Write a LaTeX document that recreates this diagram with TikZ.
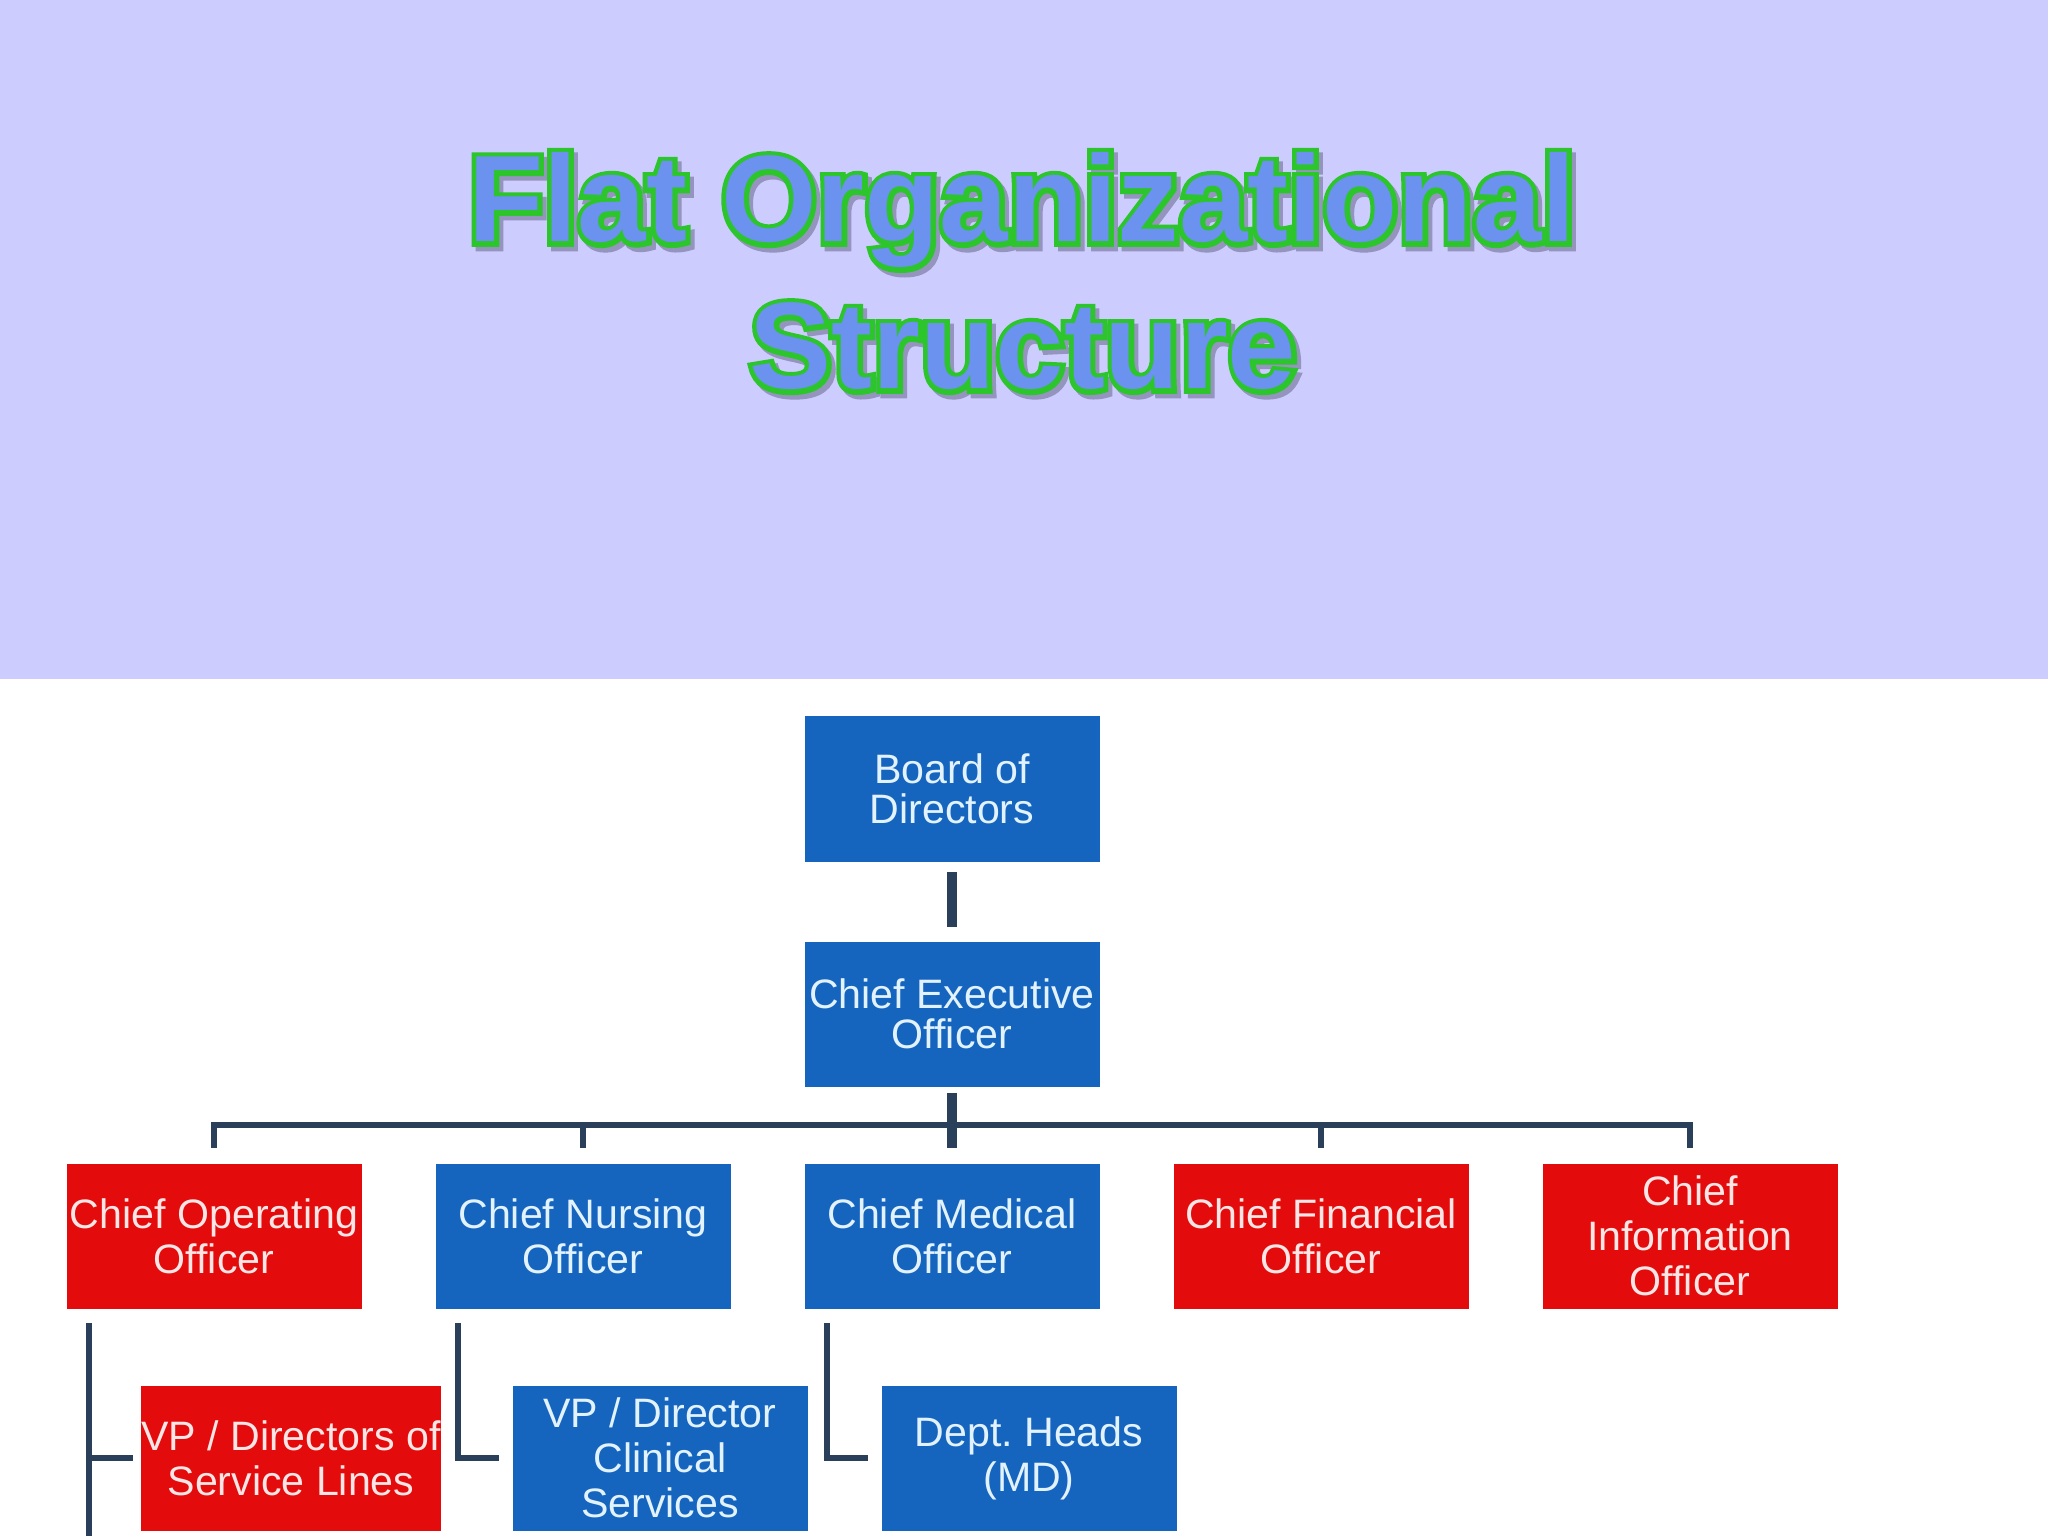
\documentclass[tikz,border=0pt]{standalone}
\usepackage{fontspec}
\setmainfont{Liberation Sans}
\newfontfamily\rimfont{Liberation Sans Bold}[FakeBold=8]
\usetikzlibrary{calc,positioning}

\definecolor{lavender}{HTML}{CCCCFF}
\definecolor{boxblue}{HTML}{1565BF}
\definecolor{boxred}{HTML}{E30B0B}
\definecolor{linkgray}{HTML}{2A3F5A}
\definecolor{rim}{HTML}{2CC52C}
\definecolor{shade}{HTML}{9494BE}
\definecolor{cornflower}{HTML}{6A92EE}
\definecolor{paleblue}{HTML}{E2F2FF}
\definecolor{palered}{HTML}{FFE6E6}

\begin{document}
\begin{tikzpicture}[node distance=2.25cm, thick,
  post/.style={rectangle, minimum width=2.95cm, minimum height=1.45cm, inner sep=0pt,
    align=center, font=\fontsize{11.7}{12.8}\selectfont},
  toppost/.style={post, font=\fontsize{11.7}{11.5}\selectfont},
  bluepost/.style={post, fill=boxblue, text=paleblue},
  redpost/.style={post, fill=boxred, text=palered},
  heading/.style={inner sep=0pt, anchor=base, font=\fontsize{35}{42}\bfseries\selectfont, text=cornflower},
  headrim/.style={heading, font=\rimfont\fontsize{35}{42}\selectfont, text=rim},
  link/.style={draw=linkgray, line width=1.8pt},
  trunk/.style={draw=linkgray, line width=2.8pt}]
\useasboundingbox (0,0) rectangle (20.48,-15.36);
\fill[lavender] (0,0) rectangle (20.48,-6.79);

% title: shadow, green rim, blue face
\coordinate (h1) at (10.22,-2.42);
\coordinate (h2) at (10.23,-3.89);
\node[headrim, text=shade] (shadeA) at ($(h1)+(0.04,-0.045)$) {Flat Organizational};
\node[headrim, text=shade] (shadeB) at ($(h2)+(0.04,-0.045)$) {Structure};
\node[headrim] (rimA) at (h1) {Flat Organizational};
\node[headrim] (rimB) at (h2) {Structure};
\node[heading] (headA) at (h1) {Flat Organizational};
\node[heading] (headB) at (h2) {Structure};

% chart
\node[bluepost, toppost] (board) at (9.52,-7.89) {Board of\\Directors};
\node[bluepost, toppost] (ceo) [below of=board] {Chief Executive\\Officer};
\node[bluepost] (cmo) [below of=ceo, yshift=0.3mm] {Chief Medical\\Officer};
\node[bluepost] (cno) [left of=cmo, xshift=-1.44cm] {Chief Nursing\\Officer};
\node[redpost] (coo) [left of=cno, xshift=-1.44cm] {Chief Operating\\Officer};
\node[redpost] (cfo) [right of=cmo, xshift=1.44cm] {Chief Financial\\Officer};
\node[redpost] (cio) [right of=cfo, xshift=1.44cm] {Chief\\Information\\Officer};
\node[redpost] (vps) [below of=coo, xshift=0.77cm, yshift=0.3mm] {VP / Directors of\\Service Lines};
\node[bluepost] (vpc) [below of=cno, xshift=0.77cm, yshift=0.3mm] {VP / Director\\Clinical\\Services};
\node[bluepost] (dept) [below of=cmo, xshift=0.77cm, yshift=0.3mm] {Dept.\ Heads\\(MD)};

\draw[trunk, shorten <=0.9mm, shorten >=1.3mm] (board) -- (ceo);
\coordinate (bus) at ($(ceo.south)!.5!(cmo.north)$);
\foreach \post in {coo,cno,cmo,cfo,cio}
  \draw[link, shorten <=1.4mm] (\post.north) |- (bus);
\draw[trunk, shorten <=0.5mm, shorten >=1.4mm] (ceo) -- (cmo);

\coordinate (edge) at (0,-15.5);
\draw[link] ([xshift=2.4mm, yshift=-1.3mm]coo.south west) coordinate (cooleg) -- (cooleg |- edge);
\draw[link] (cooleg |- vps.west) -- ([xshift=-0.7mm]vps.west);
\draw[link] ([xshift=2.4mm, yshift=-1.3mm]cno.south west) |- ([xshift=-1.2mm]vpc.west);
\draw[link] ([xshift=2.4mm, yshift=-1.3mm]cmo.south west) |- ([xshift=-1.2mm]dept.west);
\end{tikzpicture}
\end{document}
